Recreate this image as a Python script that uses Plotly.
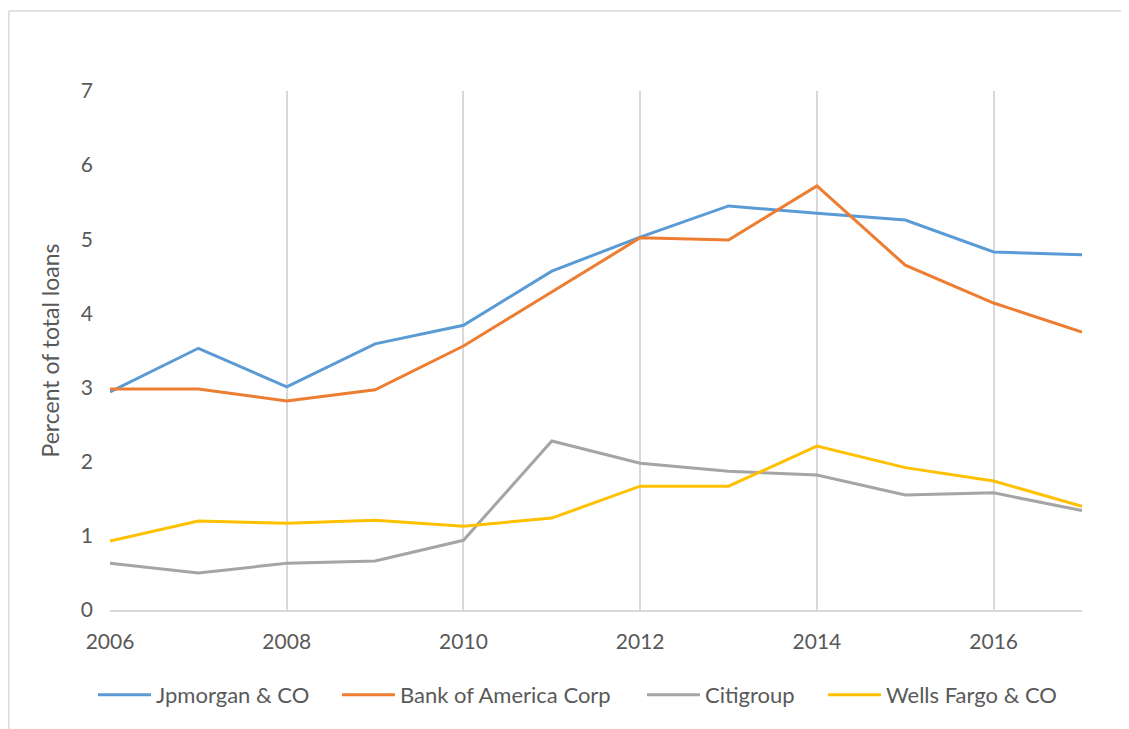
import plotly.graph_objects as go

years = list(range(2006, 2018))
jpmorgan = [2.94, 3.53, 3.01, 3.59, 3.84, 4.57, 5.03, 5.45, 5.35, 5.26, 4.83, 4.79]
bofa = [2.98, 2.98, 2.82, 2.97, 3.56, 4.29, 5.02, 4.99, 5.72, 4.65, 4.14, 3.75]
citi = [0.63, 0.50, 0.63, 0.66, 0.94, 2.28, 1.98, 1.87, 1.82, 1.55, 1.58, 1.34]
wells = [0.93, 1.20, 1.17, 1.21, 1.13, 1.24, 1.67, 1.67, 2.21, 1.92, 1.74, 1.40]
x_ticks = [2006, 2008, 2010, 2012, 2014, 2016]

series = [
    ("Jpmorgan & CO", jpmorgan, "#5B9BD5"),
    ("Bank of America Corp", bofa, "#ED7D31"),
    ("Citigroup", citi, "#A5A5A5"),
    ("Wells Fargo & CO", wells, "#FFC000"),
]
legend_ids = ["legend", "legend2", "legend3", "legend4"]
legend_line_starts = [98, 342, 647, 828]  # page px of legend line start

fig = go.Figure()
for (name, vals, color), lid in zip(series, legend_ids):
    fig.add_trace(go.Scatter(x=years, y=vals, name=name, mode="lines",
                             line=dict(color=color, width=3), legend=lid))

font_color = "#595959"
# page has an 8px body margin, so figure coordinates are offset by 8px
W, H = 1121, 721
L, R, T, B = 102, 47, 83, 119
pw, ph = W - L - R, H - T - B

legend_layout = {}
for lid, ls in zip(legend_ids, legend_line_starts):
    legend_layout[lid] = dict(
        orientation="h", x=(ls - 8 - L - 5) / pw, xanchor="left",
        y=(602 - 687) / ph, yanchor="middle",
        font=dict(size=22, color=font_color), itemwidth=53,
        bgcolor="rgba(0,0,0,0)")

border = dict(color="#d9d9d9", width=1.5)
fig.update_layout(
    width=W, height=H,
    margin=dict(l=L, r=R, t=T, b=B),
    paper_bgcolor="white", plot_bgcolor="white",
    font=dict(family="Lato, Open Sans, sans-serif", size=21, color=font_color),
    showlegend=True,
    xaxis=dict(range=[2006, 2017], tickmode="array", tickvals=x_ticks,
               showgrid=True, gridcolor="#d9d9d9", gridwidth=1.5,
               showline=True, linecolor="#d9d9d9", linewidth=1.5,
               zeroline=False, ticks="", ticklabelstandoff=12,
               tickfont=dict(size=21, color=font_color)),
    yaxis=dict(range=[0, 7], dtick=1, showgrid=False, zeroline=False, showline=False,
               ticks="", ticklabelstandoff=16,
               title=dict(text="Percent of total loans", font=dict(size=23, color=font_color), standoff=14),
               tickfont=dict(size=21, color=font_color)),
    shapes=[
        dict(type="line", xref="paper", yref="paper",
             x0=(0.8 - L) / pw, x1=(W - L) / pw, y0=(602 - 3) / ph, y1=(602 - 3) / ph,
             line=border, layer="below"),
        dict(type="line", xref="paper", yref="paper",
             x0=(0.8 - L) / pw, x1=(0.8 - L) / pw, y0=(602 - H) / ph, y1=(602 - 3) / ph,
             line=border, layer="below"),
    ],
    **legend_layout,
)

fig.write_html("out.html")
